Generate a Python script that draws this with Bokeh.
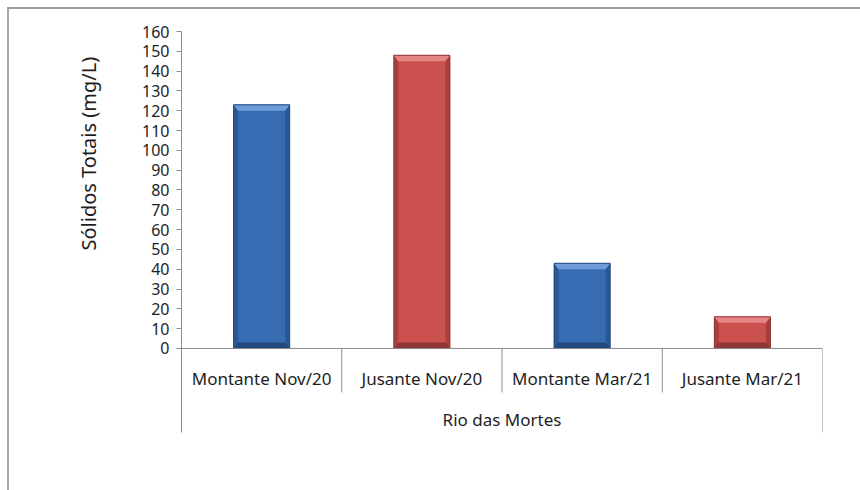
from bokeh.core.properties import value
from bokeh.embed import file_html
from bokeh.models import ColumnDataSource, FixedTicker, Title
from bokeh.plotting import figure
from bokeh.resources import INLINE

# --- data -------------------------------------------------------------
categories = ["Montante Nov/20", "Jusante Nov/20", "Montante Mar/21", "Jusante Mar/21"]
solidos_totais = [123, 148, 43, 16]
group_label = "Rio das Mortes"
y_title = "Sólidos Totais (mg/L)"
y_ticks = list(range(0, 161, 10))

# --- layout -----------------------------------------------------------
W, H = 860, 490
LEFT, RIGHT, TOP, BOTTOM = 181, 38, 31, 58
FRAME_W = W - LEFT - RIGHT
FRAME_H = H - TOP - BOTTOM
Y_MAX = 160
PX_PER_UNIT = 1.981
Y_MIN = Y_MAX - FRAME_H / PX_PER_UNIT      # room under zero for category labels

FONT = "Noto Sans"
TEXT = "#1e1e1e"
AXIS = "#8c8c8c"


def down(px):
    """distance below zero, px -> y units"""
    return -px / PX_PER_UNIT


blue = dict(body="#386cb2", top="#6d9cd8", side="#2b5792", bottom="#22487c")
red = dict(body="#cb514e", top="#e58583", side="#a83f3d", bottom="#8f3533")
palette = [blue, red, blue, red]

# transparent canvas; the page element behind it carries the white fill
# and the chart's outer border along the top and left edges
p = figure(width=W, height=H, x_range=(0, len(categories)), y_range=(Y_MIN, Y_MAX),
           output_backend="svg", toolbar_location=None, x_axis_location=None,
           min_border_left=LEFT, min_border_right=RIGHT,
           min_border_top=TOP, min_border_bottom=BOTTOM,
           background_fill_color=None, border_fill_color=None)
p.outline_line_color = None
p.grid.visible = False
p.styles = {
    "background": ("linear-gradient(#9d9d9d, #9d9d9d) 7px 7px / 100% 2px no-repeat, "
                   "linear-gradient(#a9a9a9, #a9a9a9) 7px 7px / 2px 100% no-repeat, "
                   "white"),
}

ax = p.yaxis[0]
ax.ticker = FixedTicker(ticks=y_ticks)
ax.axis_line_color = AXIS
ax.major_tick_line_color = AXIS
ax.major_tick_out = 5
ax.major_tick_in = 0
ax.minor_tick_line_color = None
ax.major_label_text_font = FONT
ax.major_label_text_font_size = "16px"
ax.major_label_text_color = TEXT
ax.major_label_standoff = 7

# y title, set in its own side panel and lifted toward the upper half
p.add_layout(Title(text=y_title, align="left", offset=182, standoff=76,
                   text_font=FONT, text_font_size="20px", text_font_style="normal",
                   text_color=TEXT), "left")

# --- bars with a bevelled look ------------------------------------------
bar_w = 0.35
bx = 0.028          # bevel width in x units
by = 3.0            # bevel height in y units
centers = [i + 0.5 for i in range(len(categories))]
x0 = [c - bar_w / 2 for c in centers]
x1 = [c + bar_w / 2 for c in centers]

p.quad(left=x0, right=x1, bottom=0, top=solidos_totais,
       fill_color=[c["body"] for c in palette], line_color=None)

top_xs, top_ys, l_xs, l_ys, r_xs, r_ys, b_xs, b_ys = [], [], [], [], [], [], [], []
for a, b, v in zip(x0, x1, solidos_totais):
    top_xs.append([a, b, b - bx, a + bx])
    top_ys.append([v, v, v - by, v - by])
    l_xs.append([a, a + bx, a + bx, a])
    l_ys.append([v, v - by, by, 0])
    r_xs.append([b, b - bx, b - bx, b])
    r_ys.append([v, v - by, by, 0])
    b_xs.append([a, a + bx, b - bx, b])
    b_ys.append([0, by, by, 0])

p.patches(l_xs, l_ys, fill_color=[c["side"] for c in palette], line_color=None)
p.patches(r_xs, r_ys, fill_color=[c["side"] for c in palette], line_color=None)
p.patches(b_xs, b_ys, fill_color=[c["bottom"] for c in palette], line_color=None)
p.patches(top_xs, top_ys, fill_color=[c["top"] for c in palette], line_color=None)
p.quad(left=x0, right=x1, bottom=0, top=solidos_totais, fill_color=None,
       line_color=[c["bottom"] for c in palette], line_width=1)

# --- category axis drawn by hand ------------------------------------------
n = len(categories)
p.segment(x0=[0], y0=[0], x1=[n], y1=[0], line_color=AXIS, line_width=1)
p.segment(x0=list(range(1, n)), y0=[0] * (n - 1), x1=list(range(1, n)),
          y1=[down(44)] * (n - 1), line_color=AXIS, line_width=1)
p.segment(x0=[n], y0=[0], x1=[n], y1=[Y_MIN], line_color=AXIS, line_width=1)

cat_src = ColumnDataSource(dict(x=centers, y=[down(30)] * n, t=categories))
p.text(x="x", y="y", text="t", source=cat_src, text_font=value(FONT),
       text_font_size="17px", text_color=TEXT, text_align="center",
       text_baseline="middle")
p.text(x=[n / 2], y=[down(71)], text=[group_label], text_font=value(FONT),
       text_font_size="17px", text_color=TEXT, text_align="center",
       text_baseline="middle")

open("out.html", "w").write(file_html(p, INLINE))
